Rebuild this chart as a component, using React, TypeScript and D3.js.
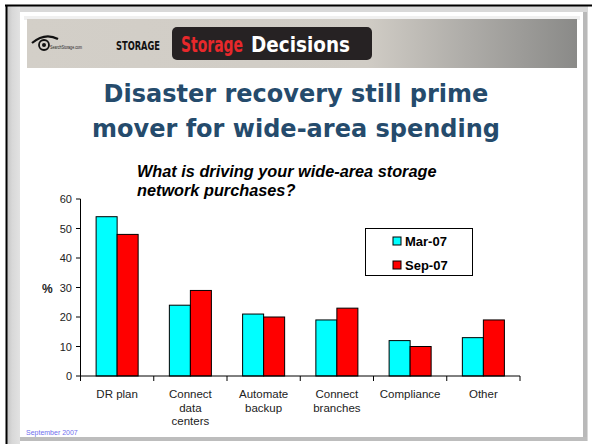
import React from "react";
import * as d3 from "d3";

const categories: string[][] = [
  ["DR plan"],
  ["Connect", "data", "centers"],
  ["Automate", "backup"],
  ["Connect", "branches"],
  ["Compliance"],
  ["Other"],
];
const seriesNames = ["Mar-07", "Sep-07"];
const mar07 = [54, 24, 21, 19, 12, 13];
const sep07 = [48, 29, 20, 23, 10, 19];
const yTicks = [0, 10, 20, 30, 40, 50, 60];
const colors = ["#00FFFF", "#FF0000"];

const titleLines = ["Disaster recovery still prime", "mover for wide-area spending"];
const subtitleLines = ["What is driving your wide-area storage", "network purchases?"];

export default function App() {
  const W = 592, H = 444;
  const catKeys = categories.map((c) => c.join(" "));
  const x0 = d3.scaleBand<string>().domain(catKeys).range([80.5, 520]).padding(0);
  const x1 = d3
    .scaleBand<string>()
    .domain(seriesNames)
    .range([0, x0.bandwidth()])
    .paddingInner(0)
    .paddingOuter(0.743);
  const y = d3.scaleLinear().domain([0, 60]).range([376, 199]);
  const values = [mar07, sep07];
  const font = "'Liberation Sans', Arial, sans-serif";
  const cond = "'DejaVu Sans Condensed', 'DejaVu Sans', sans-serif";
  const sx = 0.72;

  return (
    <svg width={W} height={H} style={{ position: "absolute", left: 0, top: 0 }}>
      <defs>
        <linearGradient id="hdr" x1="0" x2="1" y1="0" y2="0">
          <stop offset="0" stopColor="#d3cfc8" />
          <stop offset="0.62" stopColor="#d0ccc5" />
          <stop offset="0.8" stopColor="#aeaca8" />
          <stop offset="1" stopColor="#8a8a88" />
        </linearGradient>
        <linearGradient id="leftband" x1="0" x2="1" y1="0" y2="0">
          <stop offset="0" stopColor="#c4c4c4" />
          <stop offset="0.4" stopColor="#d8d8d8" />
          <stop offset="1" stopColor="#e2e2e2" />
        </linearGradient>
      </defs>
      <rect x={0} y={0} width={W} height={H} fill="#ffffff" />
      {/* frame / shadow */}
      <rect x={7} y={6} width={581} height={435} fill="#d9d9d9" />
      <rect x={7} y={6} width={13} height={438} fill="url(#leftband)" />
      <rect x={583} y={12} width={4} height={429} fill="#b9b9b9" />
      <rect x={20} y={437} width={567} height={4} fill="#bdbdbd" />
      <rect x={20} y={12} width={563} height={425} fill="#ffffff" />
      <rect x={24} y={16} width={556} height={4} fill="#f0f0f0" />
      <line x1={5} x2={592} y1={5.5} y2={5.5} stroke="#000" strokeWidth={2} />
      <line x1={6.5} x2={6.5} y1={5} y2={444} stroke="#000" strokeWidth={2} />

      {/* header */}
      <rect x={27} y={19} width={550} height={49} fill="url(#hdr)" />
      <path d="M32,43 Q45,32 58,39" fill="none" stroke="#111" strokeWidth={2.2} />
      <circle cx={44} cy={45} r={5} fill="none" stroke="#111" strokeWidth={1.8} />
      <circle cx={44} cy={45} r={2} fill="#111" />
      <text
        x={50}
        y={49}
        fontSize={4.5}
        fontFamily={font}
        textLength={32}
        lengthAdjust="spacingAndGlyphs"
        fill="#222"
      >
        SearchStorage.com
      </text>
      <text
        x={116}
        y={50}
        fontSize={12}
        fontWeight="bold"
        fontFamily={cond}
        textLength={44}
        lengthAdjust="spacingAndGlyphs"
        fill="#111"
      >
        STORAGE
      </text>
      <rect x={172} y={27} width={200} height={33} rx={5} fill="#262223" />
      <g transform={`translate(181,52) scale(${sx},1)`}>
        <text
          x={0}
          y={0}
          fontSize={22}
          fontWeight="bold"
          fontFamily={cond}
          textLength={62 / sx}
          lengthAdjust="spacingAndGlyphs"
          fill="#e8282b"
        >
          Storage
        </text>
      </g>
      <g transform={`translate(251,52) scale(${sx},1)`}>
        <text
          x={0}
          y={0}
          fontSize={22}
          fontWeight="bold"
          fontFamily={cond}
          textLength={99 / sx}
          lengthAdjust="spacingAndGlyphs"
          fill="#ffffff"
        >
          Decisions
        </text>
      </g>

      {/* title */}
      {titleLines.map((t, i) => (
        <text
          key={t}
          x={296}
          y={102 + i * 35}
          textAnchor="middle"
          fontSize={24}
          fontWeight="bold"
          fontFamily="'DejaVu Sans', Verdana, sans-serif"
          fill="#254b6c"
        >
          {t}
        </text>
      ))}

      {/* subtitle */}
      {subtitleLines.map((t, i) => (
        <text
          key={t}
          x={137}
          y={177 + i * 19}
          fontSize={16.3}
          fontWeight="bold"
          fontStyle="italic"
          fontFamily={font}
          fill="#000"
        >
          {t}
        </text>
      ))}

      {/* bars */}
      {catKeys.map((c, ci) =>
        seriesNames.map((s, si) => {
          const v = values[si][ci];
          return (
            <rect
              key={c + s}
              x={(x0(c) as number) + (x1(s) as number)}
              y={y(v)}
              width={x1.bandwidth()}
              height={y(0) - y(v)}
              fill={colors[si]}
              stroke="#000"
              strokeWidth={1}
            />
          );
        })
      )}

      {/* y axis */}
      <line x1={80.5} x2={80.5} y1={y(60)} y2={y(0)} stroke="#000" strokeWidth={1} />
      {yTicks.map((t) => (
        <g key={t}>
          <line x1={76} x2={80.5} y1={y(t)} y2={y(t)} stroke="#000" strokeWidth={1} />
          <text
            x={72}
            y={y(t) + 4}
            textAnchor="end"
            fontSize={11}
            fontFamily={font}
            fill="#222"
          >
            {t}
          </text>
        </g>
      ))}
      <text x={42} y={293} fontSize={12} fontWeight="bold" fontFamily={font} fill="#222">
        %
      </text>

      {/* x axis */}
      <line x1={80.5} x2={520} y1={y(0)} y2={y(0)} stroke="#000" strokeWidth={1} />
      {[...catKeys.map((c) => x0(c) as number), 520].map((xx, i) => (
        <line key={i} x1={xx} x2={xx} y1={y(0)} y2={y(0) + 5} stroke="#000" strokeWidth={1} />
      ))}
      {categories.map((lines, ci) => {
        const cx = (x0(catKeys[ci]) as number) + x0.bandwidth() / 2;
        return lines.map((l, li) => (
          <text
            key={ci + "-" + li}
            x={cx}
            y={398 + li * 13.5}
            textAnchor="middle"
            fontSize={11.5}
            fontFamily={font}
            fill="#222"
          >
            {l}
          </text>
        ));
      })}

      {/* legend */}
      <rect x={365.5} y={228.5} width={107} height={47} fill="#fff" stroke="#000" strokeWidth={1} />
      {seriesNames.map((s, i) => (
        <g key={s}>
          <rect
            x={393}
            y={237 + i * 24}
            width={8}
            height={8}
            fill={colors[i]}
            stroke="#000"
            strokeWidth={1}
          />
          <text
            x={405}
            y={246 + i * 24}
            fontSize={13}
            fontWeight="bold"
            fontFamily={font}
            fill="#000"
          >
            {s}
          </text>
        </g>
      ))}

      {/* footer */}
      <text x={26} y={435} fontSize={7} fontFamily={font} fill="#6f6fee">
        September 2007
      </text>
    </svg>
  );
}
